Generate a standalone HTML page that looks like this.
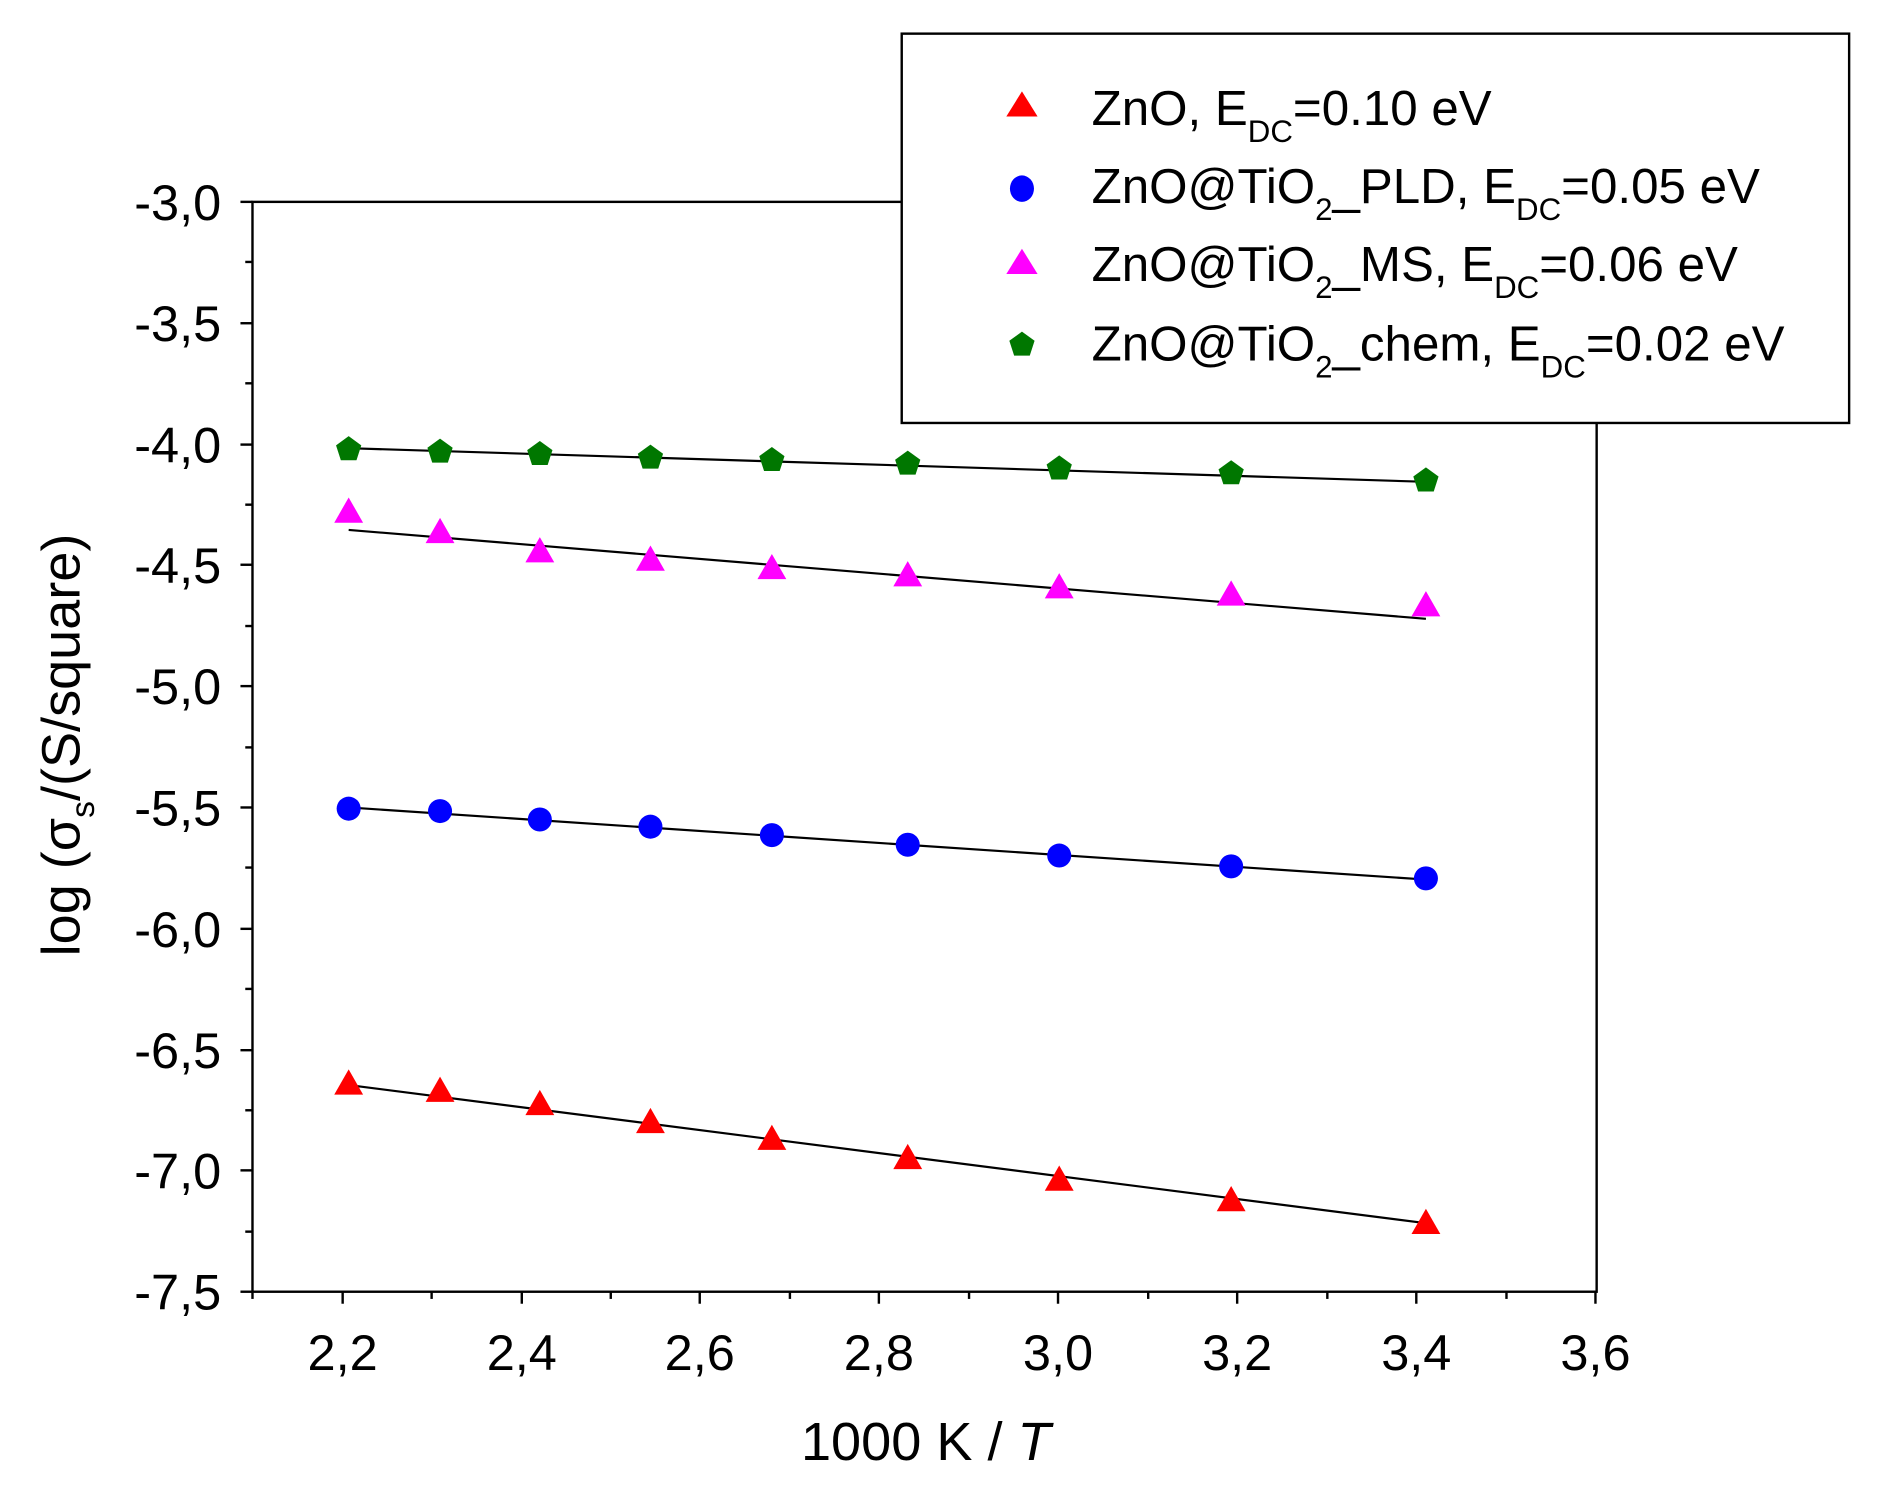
<!DOCTYPE html>
<html><head><meta charset="utf-8"><style>html,body{margin:0;padding:0;background:#fff;}svg{display:block}</style></head>
<body>
<svg width="1884" height="1502" viewBox="0 0 1567 1250" preserveAspectRatio="none" xmlns="http://www.w3.org/2000/svg" font-family="Liberation Sans, Arial, sans-serif">
<rect width="1567" height="1250" fill="#fff"/>
<rect x="210" y="168" width="1118" height="907" fill="none" stroke="#000" stroke-width="2"/>
<g stroke="#000" stroke-width="2">
<line x1="200" y1="168" x2="210" y2="168"/><line x1="200" y1="269" x2="210" y2="269"/><line x1="200" y1="370" x2="210" y2="370"/><line x1="200" y1="470" x2="210" y2="470"/><line x1="200" y1="571" x2="210" y2="571"/><line x1="200" y1="672" x2="210" y2="672"/><line x1="200" y1="773" x2="210" y2="773"/><line x1="200" y1="874" x2="210" y2="874"/><line x1="200" y1="974" x2="210" y2="974"/><line x1="200" y1="1075" x2="210" y2="1075"/>
<line x1="204" y1="218" x2="210" y2="218"/><line x1="204" y1="319" x2="210" y2="319"/><line x1="204" y1="420" x2="210" y2="420"/><line x1="204" y1="521" x2="210" y2="521"/><line x1="204" y1="622" x2="210" y2="622"/><line x1="204" y1="722" x2="210" y2="722"/><line x1="204" y1="823" x2="210" y2="823"/><line x1="204" y1="924" x2="210" y2="924"/><line x1="204" y1="1025" x2="210" y2="1025"/>
<line x1="285" y1="1075" x2="285" y2="1085"/><line x1="434" y1="1075" x2="434" y2="1085"/><line x1="582" y1="1075" x2="582" y2="1085"/><line x1="731" y1="1075" x2="731" y2="1085"/><line x1="880" y1="1075" x2="880" y2="1085"/><line x1="1029" y1="1075" x2="1029" y2="1085"/><line x1="1178" y1="1075" x2="1178" y2="1085"/><line x1="1327" y1="1075" x2="1327" y2="1085"/>
<line x1="210" y1="1075" x2="210" y2="1081"/><line x1="359" y1="1075" x2="359" y2="1081"/><line x1="508" y1="1075" x2="508" y2="1081"/><line x1="657" y1="1075" x2="657" y2="1081"/><line x1="806" y1="1075" x2="806" y2="1081"/><line x1="955" y1="1075" x2="955" y2="1081"/><line x1="1104" y1="1075" x2="1104" y2="1081"/><line x1="1253" y1="1075" x2="1253" y2="1081"/>
</g>
<g font-size="42" text-anchor="end" fill="#000">
<text x="184" y="183">-3,0</text><text x="184" y="284">-3,5</text><text x="184" y="385">-4,0</text><text x="184" y="485">-4,5</text><text x="184" y="586">-5,0</text><text x="184" y="687">-5,5</text><text x="184" y="788">-6,0</text><text x="184" y="889">-6,5</text><text x="184" y="989">-7,0</text><text x="184" y="1090">-7,5</text>
</g>
<g font-size="42" text-anchor="middle">
<text x="285" y="1140">2,2</text><text x="434" y="1140">2,4</text><text x="582" y="1140">2,6</text><text x="731" y="1140">2,8</text><text x="880" y="1140">3,0</text><text x="1029" y="1140">3,2</text><text x="1178" y="1140">3,4</text><text x="1327" y="1140">3,6</text>
</g>
<text x="770" y="1215" font-size="45" text-anchor="middle">1000 K / <tspan font-style="italic">T</tspan></text>
<text transform="translate(66,620) rotate(-90)" font-size="45" text-anchor="middle">log (σ<tspan font-size="28" dy="12">s</tspan><tspan dy="-12">/(S/square)</tspan></text>
<g stroke="#000" stroke-width="1.8">
<line x1="290" y1="903" x2="1186" y2="1018"/><line x1="290" y1="672" x2="1186" y2="732"/><line x1="290" y1="441" x2="1186" y2="515"/><line x1="290" y1="373" x2="1186" y2="401"/>
</g>
<g fill="#ff0000">
<path d="M290,890l12,21h-24z"/><path d="M366,896l12,21h-24z"/><path d="M449,907l12,21h-24z"/><path d="M541,922l12,21h-24z"/><path d="M642,936l12,21h-24z"/><path d="M755,952l12,21h-24z"/><path d="M881,970l12,21h-24z"/><path d="M1024,987l12,21h-24z"/><path d="M1186,1006l12,21h-24z"/>
</g>
<g fill="#0000ff">
<circle cx="290" cy="673" r="10"/><circle cx="366" cy="675" r="10"/><circle cx="449" cy="682" r="10"/><circle cx="541" cy="688" r="10"/><circle cx="642" cy="695" r="10"/><circle cx="755" cy="703" r="10"/><circle cx="881" cy="712" r="10"/><circle cx="1024" cy="721" r="10"/><circle cx="1186" cy="731" r="10"/>
</g>
<g fill="#ff00ff">
<path d="M290,414l12,21h-24z"/><path d="M366,431l12,21h-24z"/><path d="M449,447l12,21h-24z"/><path d="M541,454l12,21h-24z"/><path d="M642,461l12,21h-24z"/><path d="M755,467l12,21h-24z"/><path d="M881,477l12,21h-24z"/><path d="M1024,483l12,21h-24z"/><path d="M1186,492l12,21h-24z"/>
</g>
<g fill="#007700">
<path d="M0,-11l10.5,7.6l-4,12.4h-13l-4,-12.4z" transform="translate(290,374)"/>
<path d="M0,-11l10.5,7.6l-4,12.4h-13l-4,-12.4z" transform="translate(366,376)"/>
<path d="M0,-11l10.5,7.6l-4,12.4h-13l-4,-12.4z" transform="translate(449,378)"/>
<path d="M0,-11l10.5,7.6l-4,12.4h-13l-4,-12.4z" transform="translate(541,381)"/>
<path d="M0,-11l10.5,7.6l-4,12.4h-13l-4,-12.4z" transform="translate(642,383)"/>
<path d="M0,-11l10.5,7.6l-4,12.4h-13l-4,-12.4z" transform="translate(755,386)"/>
<path d="M0,-11l10.5,7.6l-4,12.4h-13l-4,-12.4z" transform="translate(881,390)"/>
<path d="M0,-11l10.5,7.6l-4,12.4h-13l-4,-12.4z" transform="translate(1024,394)"/>
<path d="M0,-11l10.5,7.6l-4,12.4h-13l-4,-12.4z" transform="translate(1186,400)"/>
</g>
<rect x="750" y="28" width="788" height="324" fill="#fff" stroke="#000" stroke-width="2"/>
<path d="M850,76l13,21h-26z" fill="#ff0000"/>
<ellipse cx="850" cy="157" rx="10" ry="11" fill="#0000ff"/>
<path d="M850,207l13,21h-26z" fill="#ff00ff"/>
<path d="M0,-11l10.5,7.6l-4,12.4h-13l-4,-12.4z" transform="translate(850,287)" fill="#007700"/>
<g font-size="41">
<text x="908" y="104">ZnO, E<tspan font-size="26" dy="14">DC</tspan><tspan dy="-14">=0.10 eV</tspan></text>
<text x="908" y="169">ZnO@TiO<tspan font-size="26" dy="14">2</tspan><tspan dy="-14">_PLD, E</tspan><tspan font-size="26" dy="14">DC</tspan><tspan dy="-14">=0.05 eV</tspan></text>
<text x="908" y="234">ZnO@TiO<tspan font-size="26" dy="14">2</tspan><tspan dy="-14">_MS, E</tspan><tspan font-size="26" dy="14">DC</tspan><tspan dy="-14">=0.06 eV</tspan></text>
<text x="908" y="300">ZnO@TiO<tspan font-size="26" dy="14">2</tspan><tspan dy="-14">_chem, E</tspan><tspan font-size="26" dy="14">DC</tspan><tspan dy="-14">=0.02 eV</tspan></text>
</g>
</svg>
</body></html>
